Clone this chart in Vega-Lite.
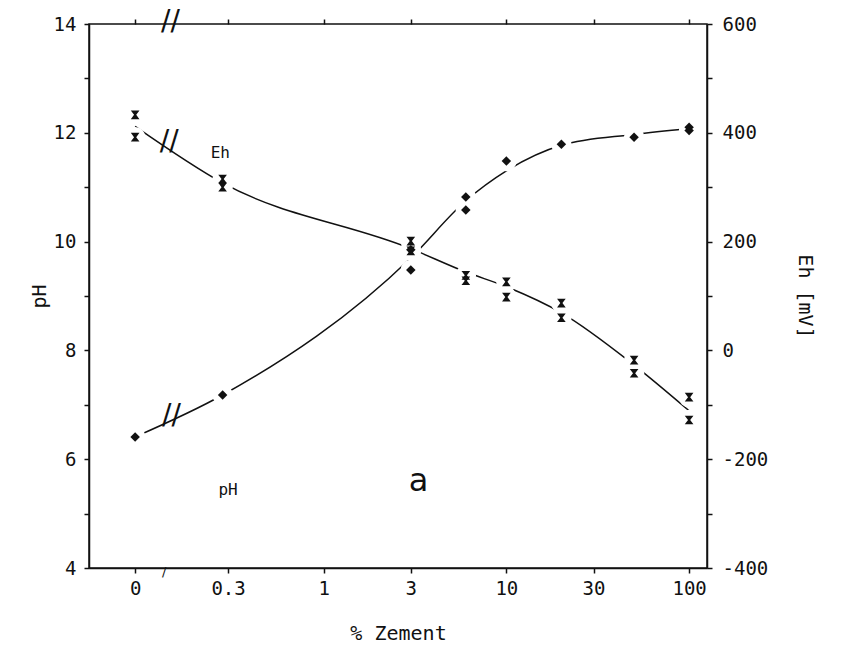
{
"$schema":"https://vega.github.io/schema/vega-lite/v6.json",
"width":618,"height":544,
"autosize":{"type":"none"},
"padding":{"left":89,"top":24,"right":139,"bottom":94},
"background":"white",
"config":{
 "view":{"stroke":"#111","strokeWidth":1.5},
 "axis":{"labelFont":"DejaVu Sans Mono","titleFont":"DejaVu Sans Mono","labelColor":"#111","titleColor":"#111","tickColor":"#111","domainColor":"#111","labelFontSize":19,"titleFontSize":20,"titleFontWeight":"normal","grid":false,"tickSize":5,"domainWidth":1.5,"tickWidth":1.5,"labelOverlap":false,"labelFlush":false},
 "text":{"font":"DejaVu Sans Mono","color":"#111"}
},
"datasets":{
 "phPoints":[
  {"zement":0,"pH":6.41},{"zement":0.28,"pH":7.18},{"zement":3,"pH":9.48},{"zement":3,"pH":9.85},
  {"zement":6,"pH":10.82},{"zement":6,"pH":10.58},{"zement":10,"pH":11.48},{"zement":20,"pH":11.79},
  {"zement":50,"pH":11.92},{"zement":100,"pH":12.1},{"zement":100,"pH":12.04}
 ],
 "ehPoints":[
  {"zement":0,"Eh":433},{"zement":0,"Eh":392},{"zement":0.28,"Eh":315},{"zement":0.28,"Eh":300},
  {"zement":3,"Eh":201},{"zement":3,"Eh":183},{"zement":6,"Eh":138},{"zement":6,"Eh":128},
  {"zement":10,"Eh":126},{"zement":10,"Eh":98},{"zement":20,"Eh":87},{"zement":20,"Eh":60},
  {"zement":50,"Eh":-18},{"zement":50,"Eh":-42},{"zement":100,"Eh":-86},{"zement":100,"Eh":-128}
 ],
 "phCurve":[
  {"zement":0,"pH":6.41},{"zement":0.28,"pH":7.18},{"zement":3,"pH":9.7},{"zement":6,"pH":10.75},
  {"zement":10,"pH":11.3},{"zement":20,"pH":11.77},{"zement":50,"pH":11.97},{"zement":100,"pH":12.08}
 ],
 "ehCurve":[
  {"zement":0,"Eh":412},{"zement":0.28,"Eh":308},{"zement":3,"Eh":187},{"zement":6,"Eh":144},
  {"zement":10,"Eh":117},{"zement":20,"Eh":69},{"zement":50,"Eh":-27},{"zement":100,"Eh":-111}
 ],
 "notes":[
  {"zement":0.272,"pH":11.63,"label":"Eh","kind":"label"},
  {"zement":0.3,"pH":5.43,"label":"pH","kind":"label"},
  {"zement":3.31,"pH":5.6,"label":"a","kind":"big"},
  {"zement":0.147,"pH":6.79,"label":"//","kind":"break"},
  {"zement":0.143,"pH":11.83,"label":"//","kind":"break"},
  {"zement":0.145,"pH":14.04,"label":"//","kind":"break"},
  {"zement":0.134,"pH":3.93,"label":"/","kind":"small"}
 ]
},
"layer":[
 {
  "data":{"name":"phCurve"},
  "transform":[{"calculate":"datum.zement == 0 ? 0.093 : datum.zement","as":"zement"}],
  "mark":{"type":"line","interpolate":"monotone","color":"#111","strokeWidth":1.5},
  "encoding":{
   "x":{"field":"zement","type":"quantitative","scale":{"type":"log","domain":[0.052,125.3],"nice":false},
        "axis":{"orient":"bottom","values":[0.093,0.3,1,3,10,30,100],"labelExpr":"datum.value < 0.2 ? '0' : datum.value < 0.5 ? '0.3' : format(datum.value,'d')","title":"% Zement","titlePadding":25,"labelPadding":6}},
   "y":{"field":"pH","type":"quantitative","scale":{"domain":[4,14],"nice":false,"zero":false},
        "axis":{"orient":"left","values":[4,5,6,7,8,9,10,11,12,13,14],"labelExpr":"datum.value % 2 == 0 ? datum.label : ''","title":"pH","titlePadding":4,"labelPadding":8}}
  }
 },
 {
  "data":{"name":"ehCurve"},
  "transform":[{"calculate":"datum.zement == 0 ? 0.093 : datum.zement","as":"zement"}],
  "mark":{"type":"line","interpolate":"monotone","color":"#111","strokeWidth":1.5},
  "encoding":{
   "x":{"field":"zement","type":"quantitative","scale":{"type":"log","domain":[0.052,125.3],"nice":false},
        "axis":{"orient":"top","values":[0.093,0.3,1,3,10,30,100],"labels":false,"title":null,"domain":false}},
   "y":{"field":"Eh","type":"quantitative","scale":{"domain":[-400,600],"nice":false,"zero":false},
        "axis":{"orient":"right","values":[-400,-300,-200,-100,0,100,200,300,400,500,600],"labelExpr":"datum.value % 200 == 0 ? replace(datum.label, '\u2212', '-') : ''","title":"Eh [mV]","titleAngle":90,"titlePadding":27,"labelPadding":10}}
  }
 },
 {
  "data":{"name":"phPoints"},
  "transform":[{"calculate":"datum.zement == 0 ? 0.093 : datum.zement","as":"zement"}],
  "mark":{"type":"point","shape":"circle","filled":true,"color":"white","opacity":1,"size":420},
  "encoding":{
   "x":{"field":"zement","type":"quantitative","scale":{"type":"log","domain":[0.052,125.3],"nice":false},"axis":null},
   "y":{"field":"pH","type":"quantitative","scale":{"domain":[4,14],"nice":false,"zero":false},"axis":null}
  }
 },
 {
  "data":{"name":"ehPoints"},
  "transform":[{"calculate":"datum.zement == 0 ? 0.093 : datum.zement","as":"zement"}],
  "mark":{"type":"point","shape":"circle","filled":true,"color":"white","opacity":1,"size":420},
  "encoding":{
   "x":{"field":"zement","type":"quantitative","scale":{"type":"log","domain":[0.052,125.3],"nice":false},"axis":null},
   "y":{"field":"Eh","type":"quantitative","scale":{"domain":[-400,600],"nice":false,"zero":false},"axis":null}
  }
 },
 {
  "data":{"name":"phPoints"},
  "transform":[{"calculate":"datum.zement == 0 ? 0.093 : datum.zement","as":"zement"}],
  "mark":{"type":"point","shape":"diamond","filled":true,"color":"#111","opacity":1,"size":90},
  "encoding":{
   "x":{"field":"zement","type":"quantitative","scale":{"type":"log","domain":[0.052,125.3],"nice":false},"axis":null},
   "y":{"field":"pH","type":"quantitative","scale":{"domain":[4,14],"nice":false,"zero":false},"axis":null}
  }
 },
 {
  "data":{"name":"ehPoints"},
  "transform":[{"calculate":"datum.zement == 0 ? 0.093 : datum.zement","as":"zement"}],
  "mark":{"type":"point","shape":"M-1,-1H1L0.25,0L1,1H-1L-0.25,0Z","filled":true,"color":"#111","opacity":1,"size":75},
  "encoding":{
   "x":{"field":"zement","type":"quantitative","scale":{"type":"log","domain":[0.052,125.3],"nice":false},"axis":null},
   "y":{"field":"Eh","type":"quantitative","scale":{"domain":[-400,600],"nice":false,"zero":false},"axis":null}
  }
 },
 {
  "data":{"name":"notes"},
  "transform":[{"filter":"datum.kind == 'label'"}],
  "mark":{"type":"text","font":"DejaVu Sans Mono","fontSize":16,"align":"center","baseline":"middle","color":"#111"},
  "encoding":{
   "x":{"field":"zement","type":"quantitative","scale":{"type":"log","domain":[0.052,125.3],"nice":false},"axis":null},
   "y":{"field":"pH","type":"quantitative","scale":{"domain":[4,14],"nice":false,"zero":false},"axis":null},
   "text":{"field":"label"}
  }
 },
 {
  "data":{"name":"notes"},
  "transform":[{"filter":"datum.kind == 'big'"}],
  "mark":{"type":"text","font":"DejaVu Sans","fontSize":32,"align":"center","baseline":"middle","color":"#111"},
  "encoding":{
   "x":{"field":"zement","type":"quantitative","scale":{"type":"log","domain":[0.052,125.3],"nice":false},"axis":null},
   "y":{"field":"pH","type":"quantitative","scale":{"domain":[4,14],"nice":false,"zero":false},"axis":null},
   "text":{"field":"label"}
  }
 },
 {
  "data":{"name":"notes"},
  "transform":[{"filter":"datum.kind == 'break'"}],
  "mark":{"type":"text","font":"DejaVu Sans","fontSize":28,"align":"center","baseline":"middle","color":"#111"},
  "encoding":{
   "x":{"field":"zement","type":"quantitative","scale":{"type":"log","domain":[0.052,125.3],"nice":false},"axis":null},
   "y":{"field":"pH","type":"quantitative","scale":{"domain":[4,14],"nice":false,"zero":false},"axis":null},
   "text":{"field":"label"}
  }
 },
 {
  "data":{"name":"notes"},
  "transform":[{"filter":"datum.kind == 'small'"}],
  "mark":{"type":"text","font":"DejaVu Sans","fontSize":13,"align":"center","baseline":"middle","color":"#111"},
  "encoding":{
   "x":{"field":"zement","type":"quantitative","scale":{"type":"log","domain":[0.052,125.3],"nice":false},"axis":null},
   "y":{"field":"pH","type":"quantitative","scale":{"domain":[4,14],"nice":false,"zero":false},"axis":null},
   "text":{"field":"label"}
  }
 }
],
"resolve":{"scale":{"y":"independent"},"axis":{"x":"independent","y":"independent"}}
}
